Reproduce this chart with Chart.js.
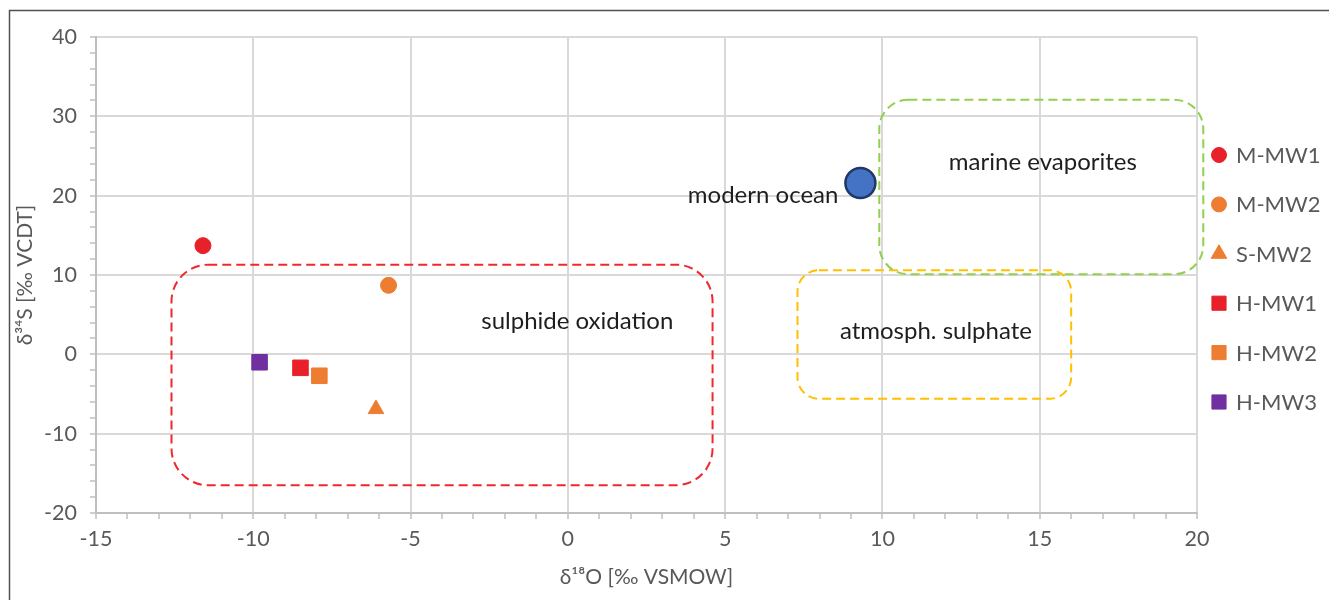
<!DOCTYPE html>
<html>
<head>
<meta charset="utf-8">
<script src="https://cdn.jsdelivr.net/npm/chart.js@4.4.1/dist/chart.umd.min.js"></script>
<style>
  html, body { margin: 0; padding: 0; background: #fff; }
  #wrap { width: 1329px; height: 600px; position: relative; }
</style>
</head>
<body>
<div id="wrap"><canvas id="isoChart" width="1329" height="600"></canvas></div>
<script>
// samples
const samples = ['M-MW1', 'M-MW2', 'S-MW2', 'H-MW1', 'H-MW2', 'H-MW3'];
const d18O = [-11.6, -5.7, -6.1, -8.5, -7.9, -9.8];
const d34S = [13.7, 8.7, -6.9, -1.7, -2.7, -1.0];

// reference value
const oceanName = 'modern ocean';
const oceanO = [9.3];
const oceanS = [21.6];

// source fields (dashed boxes), ranges in per mil
const fieldNames = ['sulphide oxidation', 'atmosph. sulphate', 'marine evaporites'];
const fieldO = [[-12.6, 4.6], [7.3, 16.0], [9.9, 20.2]];
const fieldS = [[-16.5, 11.3], [-5.6, 10.6], [10.1, 32.1]];

// tick labels
const xLabels = [-15, -10, -5, 0, 5, 10, 15, 20];
const yLabels = [-20, -10, 0, 10, 20, 30, 40];

// styles
const FONT = 'Lato';
const GREY = '#595959';
const markerColors = ['#E8202A', '#ED7D31', '#ED7D31', '#E8202A', '#ED7D31', '#7030A0'];
const markerShapes = ['circle', 'circle', 'triangle', 'rect', 'rect', 'rect'];
const markerSizes = [8, 8, 9, 11, 11, 11];
const legendSizes = [7.5, 7.5, 9, 10, 10, 10];
const fieldColors = ['#F0282D', '#FFC000', '#92D050'];
const fieldLabelAt = [[0.3, 4.2], [11.7, 2.9], [15.1, 24.2]];
const oceanLabelAt = [8.6, 20.0];

let datasets = samples.map(function(name, i) {
  return {
    label: name,
    data: [{x: d18O[i], y: d34S[i]}],
    pointStyle: markerShapes[i],
    pointRadius: markerSizes[i],
    pointHoverRadius: markerSizes[i],
    backgroundColor: markerColors[i],
    borderColor: markerColors[i],
    borderWidth: 1
  };
});
datasets.push({
  label: oceanName,
  data: [{x: oceanO[0], y: oceanS[0]}],
  pointStyle: 'circle',
  pointRadius: 15,
  pointHoverRadius: 15,
  backgroundColor: '#4472C4',
  borderColor: '#1F3864',
  borderWidth: 2.5,
  noLegend: true
});

const frame = {
  id: 'frame',
  beforeDraw(chart) {
    const ctx = chart.ctx;
    ctx.save();
    ctx.fillStyle = '#fff';
    ctx.fillRect(0, 0, chart.width, chart.height);
    ctx.strokeStyle = '#505050';
    ctx.lineWidth = 1.5;
    ctx.strokeRect(9.5, 10.5, chart.width + 20, chart.height + 20);
    ctx.restore();
  }
};

const fields = {
  id: 'fields',
  beforeDatasetsDraw(chart) {
    const ctx = chart.ctx, xs = chart.scales.x, ys = chart.scales.y;
    ctx.save();
    fieldNames.forEach(function(n, i) {
      const l = xs.getPixelForValue(fieldO[i][0]), r = xs.getPixelForValue(fieldO[i][1]);
      const t = ys.getPixelForValue(fieldS[i][1]), b = ys.getPixelForValue(fieldS[i][0]);
      const rad = Math.min(r - l, b - t) / 6;
      ctx.beginPath();
      ctx.roundRect(l, t, r - l, b - t, rad);
      ctx.setLineDash([9, 5]);
      ctx.lineWidth = 2;
      ctx.strokeStyle = fieldColors[i];
      ctx.stroke();
    });
    ctx.restore();
  },
  afterDatasetsDraw(chart) {
    const ctx = chart.ctx, xs = chart.scales.x, ys = chart.scales.y;
    ctx.save();
    ctx.font = '24px ' + FONT;
    ctx.fillStyle = '#1e1e1e';
    ctx.textBaseline = 'middle';
    ctx.textAlign = 'center';
    fieldNames.forEach(function(n, i) {
      ctx.fillText(n, xs.getPixelForValue(fieldLabelAt[i][0]), ys.getPixelForValue(fieldLabelAt[i][1]));
    });
    ctx.textAlign = 'right';
    ctx.fillText(oceanName, xs.getPixelForValue(oceanLabelAt[0]), ys.getPixelForValue(oceanLabelAt[1]));
    ctx.restore();
  }
};

const sideLegend = {
  id: 'sideLegend',
  afterDraw(chart) {
    const ctx = chart.ctx;
    const x = chart.chartArea.right + 22;
    let y = chart.chartArea.top + 118;
    ctx.save();
    ctx.font = '22px ' + FONT;
    ctx.textBaseline = 'middle';
    ctx.textAlign = 'left';
    chart.data.datasets.forEach(function(ds, i) {
      if (ds.noLegend) return;
      ctx.fillStyle = ds.backgroundColor;
      ctx.strokeStyle = ds.borderColor;
      ctx.lineWidth = 1;
      Chart.helpers.drawPoint(ctx, {pointStyle: ds.pointStyle, radius: legendSizes[i], rotation: 0, borderWidth: 1}, x, y);
      ctx.fillStyle = GREY;
      ctx.fillText(ds.label, x + 17, y + 1);
      y += 49.4;
    });
    ctx.restore();
  }
};

let isoChart = new Chart(document.getElementById('isoChart').getContext('2d'), {
  type: 'scatter',
  data: {datasets: datasets},
  plugins: [frame, fields, sideLegend],
  options: {
    responsive: false,
    animation: false,
    layout: {padding: {left: 10, top: 37, right: 132, bottom: 0}},
    plugins: {legend: {display: false}, tooltip: {enabled: false}},
    scales: {
      x: {
        type: 'linear', min: -15, max: 20,
        afterFit: function(s) { s.height = 87; },
        ticks: {
          stepSize: 1, autoSkip: false, maxRotation: 0, padding: 7,
          color: GREY, font: {family: FONT, size: 21.5},
          callback: function(v) { return xLabels.includes(v) ? String(v) : ''; }
        },
        grid: {
          color: function(c) { return c.tick && xLabels.includes(c.tick.value) ? '#D9D9D9' : 'rgba(0,0,0,0)'; },
          lineWidth: 2, tickColor: '#BFBFBF', tickLength: 6, tickWidth: 1.5
        },
        border: {color: '#BFBFBF', width: 2},
        title: {display: true, text: 'δ¹⁸O [‰ VSMOW]', color: GREY, font: {family: FONT, size: 21}, padding: {top: 0, bottom: 10}}
      },
      y: {
        type: 'linear', min: -20, max: 40,
        afterFit: function(s) { s.width = 86; },
        ticks: {
          stepSize: 2, autoSkip: false, padding: 13,
          color: GREY, font: {family: FONT, size: 21.5},
          callback: function(v) { return yLabels.includes(v) ? String(v) : ''; }
        },
        grid: {
          color: function(c) { return c.tick && yLabels.includes(c.tick.value) ? '#D9D9D9' : 'rgba(0,0,0,0)'; },
          lineWidth: 2, tickColor: '#BFBFBF', tickLength: 6, tickWidth: 1.5
        },
        border: {color: '#BFBFBF', width: 2},
        title: {display: true, text: 'δ³⁴S [‰ VCDT]', color: GREY, font: {family: FONT, size: 21}, padding: {top: 3, bottom: 0}}
      }
    }
  }
});
</script>
</body>
</html>
